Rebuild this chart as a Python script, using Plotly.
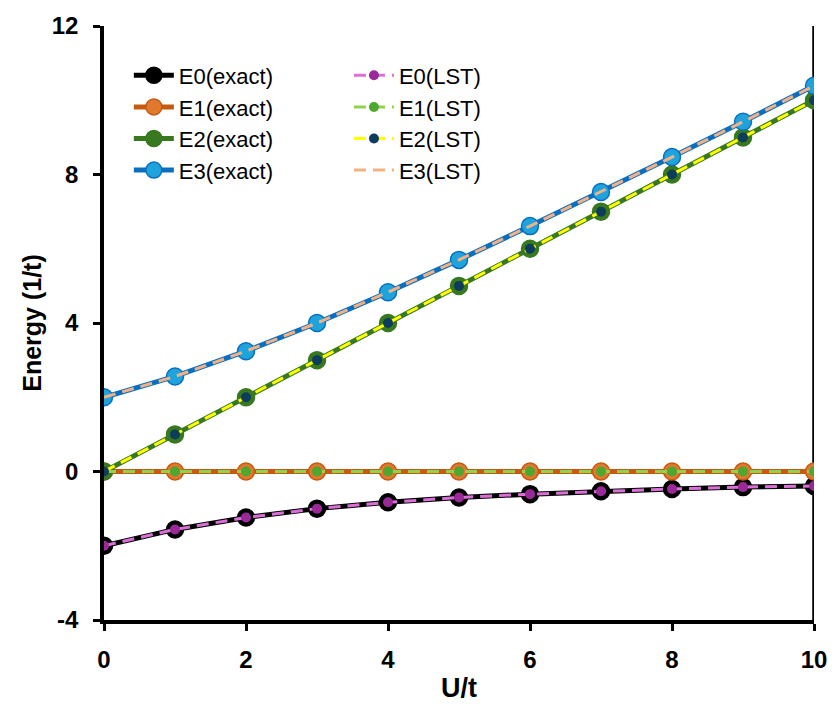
import plotly.graph_objects as go

U = [0, 1, 2, 3, 4, 5, 6, 7, 8, 9, 10]
E0_exact = [-2.0, -1.56, -1.24, -1.0, -0.83, -0.70, -0.61, -0.53, -0.47, -0.42, -0.39]
E1_exact = [0, 0, 0, 0, 0, 0, 0, 0, 0, 0, 0]
E2_exact = [0, 1, 2, 3, 4, 5, 6, 7, 8, 9, 10]
E3_exact = [2.0, 2.56, 3.24, 4.0, 4.83, 5.70, 6.61, 7.53, 8.47, 9.42, 10.39]
E0_lst = [-2.0, -1.56, -1.24, -1.0, -0.83, -0.70, -0.61, -0.53, -0.47, -0.42, -0.39]
E1_lst = [0, 0, 0, 0, 0, 0, 0, 0, 0, 0, 0]
E2_lst = [0, 1, 2, 3, 4, 5, 6, 7, 8, 9, 10]
E3_lst = [2.0, 2.56, 3.24, 4.0, 4.83, 5.70, 6.61, 7.53, 8.47, 9.42, 10.39]
x_ticks = [0, 2, 4, 6, 8, 10]
y_ticks = [-4, 0, 4, 8, 12]
y_ticklabels = ["-4", "0", "4", "8", "12"]

fig = go.Figure()

exact = [
    ("E0(exact)", E0_exact, "#000000", "#000000"),
    ("E1(exact)", E1_exact, "#c55a11", "#e0782e"),
    ("E2(exact)", E2_exact, "#38791f", "#38791f"),
    ("E3(exact)", E3_exact, "#0b6fc0", "#1ea3dc"),
]
for name, y, lc, mc in exact:
    fig.add_trace(go.Scatter(
        x=U, y=y, name=name, mode="lines+markers",
        line=dict(color=lc, width=5),
        marker=dict(color=mc, size=17, line=dict(color=lc, width=1.5)),
        legend="legend",
    ))

lst = [
    ("E0(LST)", E0_lst, "#da70d6", "#9a2a98", True),
    ("E1(LST)", E1_lst, "#92d050", "#4ea72e", True),
    ("E2(LST)", E2_lst, "#ffff00", "#0e3c5c", True),
    ("E3(LST)", E3_lst, "#f4b183", "#f4b183", False),
]
for name, y, lc, mc, mk in lst:
    fig.add_trace(go.Scatter(
        x=U, y=y, name=name, mode="lines+markers" if mk else "lines",
        line=dict(color=lc, width=3, dash="12px,7px"),
        marker=dict(color=mc, size=10),
        legend="legend2",
    ))

fig.add_shape(type="line", xref="x", yref="y", x0=10, x1=10, y0=-4, y1=12,
              line=dict(color="black", width=3.5), layer="below")

fam = "Liberation Sans, Arial"
fig.update_layout(
    width=839, height=715,
    margin=dict(l=104, r=18, t=20, b=95),
    plot_bgcolor="white", paper_bgcolor="white",
    font=dict(family=fam, color="black"),
    xaxis=dict(
        range=[0, 10], tickvals=x_ticks, showgrid=False, zeroline=False,
        showline=True, linecolor="black", linewidth=3.5,
        ticks="outside", ticklen=7, tickwidth=3, tickcolor="black",
        ticklabelstandoff=8,
        tickfont=dict(family=fam, size=24, color="black", weight="bold"),
        title=dict(text="<b>U/t</b>", font=dict(size=27), standoff=8),
    ),
    yaxis=dict(
        range=[-4, 12], tickvals=y_ticks, ticktext=y_ticklabels,
        showgrid=False, zeroline=False,
        showline=True, linecolor="black", linewidth=3.5,
        ticks="outside", ticklen=7, tickwidth=3, tickcolor="black",
        ticklabelstandoff=10,
        tickfont=dict(family=fam, size=24, color="black", weight="bold"),
        title=dict(text="<b>Energy (1/t)</b>", font=dict(size=25), standoff=4),
    ),
    legend=dict(
        x=0.035, y=0.952, xanchor="left", yanchor="top",
        bgcolor="rgba(0,0,0,0)", font=dict(size=22, color="black"),
        tracegroupgap=0, itemwidth=40,
    ),
    legend2=dict(
        x=0.345, y=0.952, xanchor="left", yanchor="top",
        bgcolor="rgba(0,0,0,0)", font=dict(size=22, color="black"),
        tracegroupgap=0, itemwidth=40,
    ),
)

fig.write_html("out.html", config={"displayModeBar": False},
               post_script="document.body.style.margin='0px';")
